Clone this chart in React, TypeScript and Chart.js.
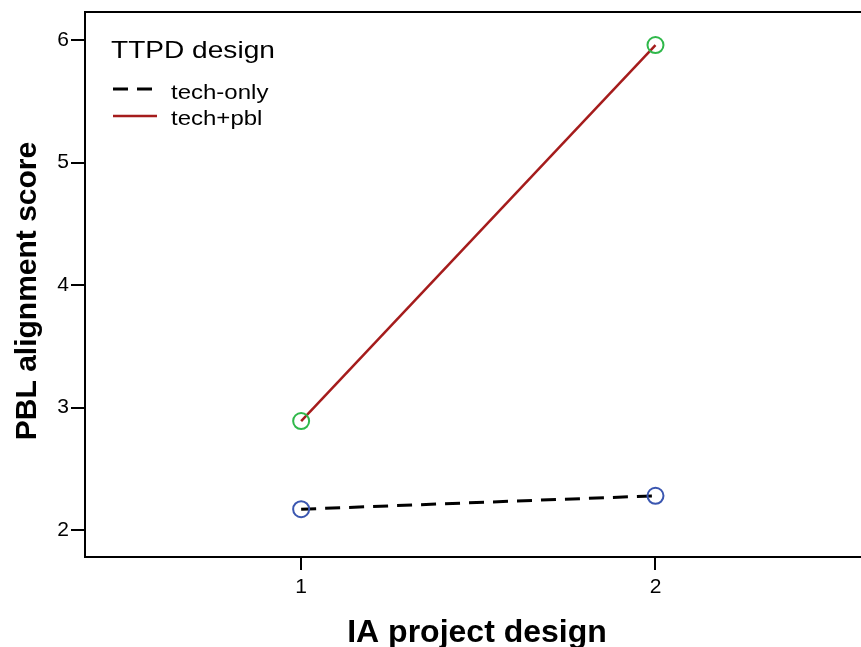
import React, { useEffect, useRef } from "react";
import { Chart, registerables } from "chart.js";

Chart.register(...registerables);

const xCategories = [1, 2];
const techOnly = [2.17, 2.28];
const techPbl = [2.89, 5.96];
const yTicks = [2, 3, 4, 5, 6];
const xTicks = [1, 2];
const legendTitle = "TTPD design";
const seriesNames = ["tech-only", "tech+pbl"];
const xTitle = "IA project design";
const yTitle = "PBL alignment score";

const FONT = "'Liberation Sans', Arial, sans-serif";

function stretchedText(ctx: any, text: string, x: number, y: number, sx: number) {
  ctx.save();
  ctx.translate(x, y);
  ctx.scale(sx, 1);
  ctx.fillText(text, 0, 0);
  ctx.restore();
}

const overlayPlugin = {
  id: "overlay",
  afterDraw(chart: any) {
    const ctx = chart.ctx;
    const a = chart.chartArea;
    ctx.save();
    // top border
    ctx.strokeStyle = "#000";
    ctx.lineWidth = 2;
    ctx.beginPath();
    ctx.moveTo(a.left - 1, a.top);
    ctx.lineTo(a.right, a.top);
    ctx.stroke();
    // axis titles
    ctx.fillStyle = "#000";
    ctx.textAlign = "center";
    ctx.textBaseline = "middle";
    ctx.font = `bold 32px ${FONT}`;
    ctx.fillText(xTitle, 477, 633);
    ctx.save();
    ctx.translate(28, 291);
    ctx.rotate(-Math.PI / 2);
    ctx.font = `bold 30px ${FONT}`;
    ctx.fillText(yTitle, 0, 0);
    ctx.restore();
    // legend
    ctx.textBaseline = "alphabetic";
    ctx.textAlign = "left";
    ctx.font = `24px ${FONT}`;
    stretchedText(ctx, legendTitle, 111, 58, 1.17);
    ctx.font = `20px ${FONT}`;
    const rows = [
      { ly: 89, ty: 99, color: "#000", dash: [15, 9], name: seriesNames[0], w: 3, x2: 152 },
      { ly: 116, ty: 125, color: "#a51c1c", dash: [], name: seriesNames[1], w: 2.5, x2: 157 },
    ];
    rows.forEach((r) => {
      ctx.strokeStyle = r.color;
      ctx.lineWidth = r.w;
      ctx.setLineDash(r.dash);
      ctx.beginPath();
      ctx.moveTo(113, r.ly);
      ctx.lineTo(r.x2, r.ly);
      ctx.stroke();
      ctx.setLineDash([]);
      stretchedText(ctx, r.name, 171, r.ty, 1.2);
    });
    ctx.restore();
  },
};

export default function App() {
  const ref = useRef<HTMLCanvasElement>(null);
  useEffect(() => {
    document.body.style.margin = "0";
    document.body.style.overflow = "hidden";
    const chart = new Chart(ref.current!, {
      type: "line",
      data: {
        datasets: [
          {
            label: seriesNames[0],
            data: xCategories.map((x, i) => ({ x, y: techOnly[i] })),
            borderColor: "#000",
            borderWidth: 3,
            borderDash: [15, 9],
            pointRadius: 8,
            pointBorderWidth: 2,
            pointBorderColor: "#3a56b0",
            pointBackgroundColor: "rgba(0,0,0,0)",
            fill: false,
          },
          {
            label: seriesNames[1],
            data: xCategories.map((x, i) => ({ x, y: techPbl[i] })),
            borderColor: "#a51c1c",
            borderWidth: 2.5,
            pointRadius: 8,
            pointBorderWidth: 2,
            pointBorderColor: "#2fb84a",
            pointBackgroundColor: "rgba(0,0,0,0)",
            fill: false,
          },
        ],
      },
      options: {
        animation: false,
        responsive: false,
        maintainAspectRatio: false,
        devicePixelRatio: 1,
        layout: { autoPadding: false, padding: { top: 12, right: 0, left: 0, bottom: 0 } },
        plugins: { legend: { display: false }, tooltip: { enabled: false } },
        scales: {
          x: {
            type: "linear",
            min: 0.39,
            max: 2.58,
            afterBuildTicks: (s: any) => {
              s.ticks = xTicks.map((v) => ({ value: v }));
            },
            afterFit: (s: any) => {
              s.height = 90;
              s.paddingLeft = 0;
              s.paddingRight = 0;
            },
            grid: { drawOnChartArea: false, drawTicks: true, tickLength: 13, tickColor: "#000", lineWidth: 2 },
            border: { display: true, color: "#000", width: 2 },
            ticks: { color: "#000", font: { family: FONT, size: 21 }, padding: 5, autoSkip: false, maxRotation: 0 },
            title: { display: false, text: xTitle },
          },
          y: {
            type: "linear",
            min: 1.78,
            max: 6.23,
            afterBuildTicks: (s: any) => {
              s.ticks = yTicks.map((v) => ({ value: v }));
            },
            afterFit: (s: any) => {
              s.width = 85;
              s.paddingTop = 0;
              s.paddingBottom = 0;
            },
            grid: { drawOnChartArea: false, drawTicks: true, tickLength: 14, tickColor: "#000", lineWidth: 2 },
            border: { display: true, color: "#000", width: 2 },
            ticks: { color: "#000", font: { family: FONT, size: 21 }, padding: 2 },
            title: { display: false, text: yTitle },
          },
        },
      },
      plugins: [overlayPlugin],
    } as any);
    return () => chart.destroy();
  }, []);
  return (
    <div style={{ width: 861, height: 647, position: "relative", overflow: "hidden" }}>
      <canvas ref={ref} width={861} height={647} style={{ display: "block", width: 861, height: 647 }} />
    </div>
  );
}
